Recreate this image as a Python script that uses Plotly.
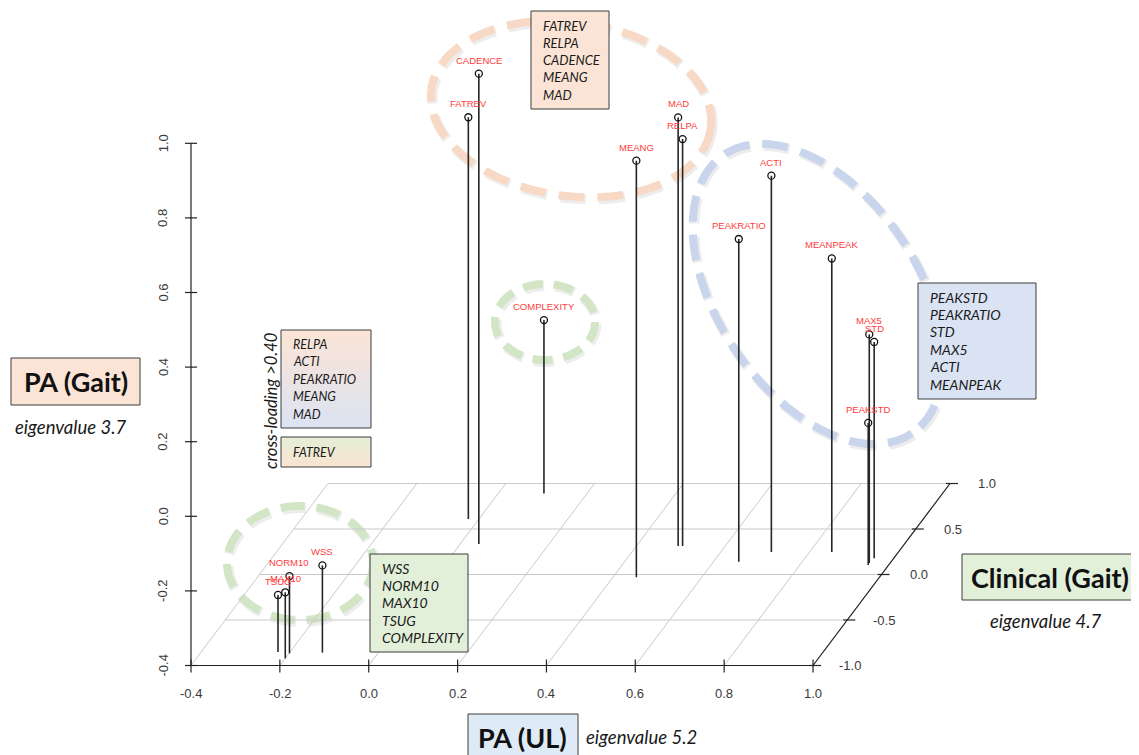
import numpy as np
import plotly.graph_objects as go

# ---------------- data (factor loadings) ----------------
variables = ["CADENCE", "FATREV", "MAD", "RELPA", "MEANG", "COMPLEXITY", "ACTI",
             "PEAKRATIO", "MEANPEAK", "MAX5", "STD", "PEAKSTD",
             "WSS", "NORM10", "MAX10", "TSUG"]
pa_ul = [0.042, -0.024, 0.494, 0.504, 0.453, 0.103, 0.714,
         0.657, 0.850, 0.953, 0.956, 0.954,
         -0.126, -0.199, -0.200, -0.227]
clinical_gait = [0.335, 0.610, 0.313, 0.313, -0.031, 0.890, 0.247,
                 0.141, 0.247, 0.126, 0.178, 0.104,
                 -0.859, -0.866, -0.921, -0.852]
pa_gait = [0.861, 0.677, 0.749, 0.691, 0.717, 0.065, 0.609,
           0.465, 0.387, 0.213, 0.180, -0.019,
           -0.166, -0.193, -0.223, -0.247]

x_ticks = [-0.4, -0.2, 0.0, 0.2, 0.4, 0.6, 0.8, 1.0]
y_ticks = [-1.0, -0.5, 0.0, 0.5, 1.0]
z_ticks = [-0.4, -0.2, 0.0, 0.2, 0.4, 0.6, 0.8, 1.0]

group_pa_gait = ["FATREV", "RELPA", "CADENCE", "MEANG", "MAD"]
group_pa_ul = ["PEAKSTD", "PEAKRATIO", "STD", "MAX5", "ACTI", "MEANPEAK"]
group_clinical = ["WSS", "NORM10", "MAX10", "TSUG", "COMPLEXITY"]
cross_loading = ["RELPA", "ACTI", "PEAKRATIO", "MEANG", "MAD"]
cross_loading_2 = ["FATREV"]

# ---------------- projection (scatterplot3d style) ----------------
XMIN, XMAX = -0.4, 1.0
YMIN, YMAX = -1.0, 1.0
ZMIN, ZMAX = -0.4, 1.0
OX, OY = 191.0, 665.5
X_UNIT = 444.3
D_DX, D_DY = 68.5, 91.0
Z_UNIT = 373.0


def proj(x, y, z):
    px = OX + (x - XMIN) * X_UNIT + (y - YMIN) * D_DX
    py = OY - (y - YMIN) * D_DY - (z - ZMIN) * Z_UNIT
    return px, py


W, H = 1139, 755
PAGE_MARGIN = 8  # default body margin of the html page
FONT_AX = "Liberation Sans"
FONT_TX = "Lato"

fig = go.Figure()
shapes = []
annotations = []


def seg_trace(segs, color, width):
    xs, ys = [], []
    for (x0, y0), (x1, y1) in segs:
        xs += [x0, x1, None]
        ys += [y0, y1, None]
    return go.Scatter(x=xs, y=ys, mode="lines", line=dict(color=color, width=width),
                      hoverinfo="skip", showlegend=False)


# ---------------- floor grid ----------------
grid = []
for xt in x_ticks:
    grid.append((proj(xt, YMIN, ZMIN), proj(xt, YMAX, ZMIN)))
for yt in y_ticks:
    grid.append((proj(XMIN, yt, ZMIN), proj(XMAX, yt, ZMIN)))
fig.add_trace(seg_trace(grid, "#c9c9c9", 1))

# ---------------- axes ----------------
axes = [
    (proj(XMIN, YMIN, ZMIN), proj(XMAX, YMIN, ZMIN)),
    (proj(XMIN, YMIN, ZMIN), proj(XMIN, YMIN, ZMAX)),
    (proj(XMAX, YMIN, ZMIN), proj(XMAX, YMAX, ZMIN)),
]
for xt in x_ticks:
    px, py = proj(xt, YMIN, ZMIN)
    axes.append(((px, py - 6), (px, py + 7)))
for zt in z_ticks:
    px, py = proj(XMIN, YMIN, zt)
    axes.append(((px - 6, py), (px + 6, py)))
for yt in y_ticks:
    px, py = proj(XMAX, yt, ZMIN)
    axes.append(((px - 4, py), (px + 8, py)))
fig.add_trace(seg_trace(axes, "#222222", 1.2))

tick_font = dict(family=FONT_AX, size=13, color="#3a3a3a")
for xt in x_ticks:
    px, py = proj(xt, YMIN, ZMIN)
    annotations.append(dict(x=px, y=py + 28, text=f"{xt:.1f}", showarrow=False, font=tick_font))
for zt in z_ticks:
    px, py = proj(XMIN, YMIN, zt)
    annotations.append(dict(x=px - 28, y=py, text=f"{zt:.1f}", showarrow=False,
                            textangle=-90, font=tick_font))
for yt in y_ticks:
    px, py = proj(XMAX, yt, ZMIN)
    annotations.append(dict(x=px + 37, y=py, text=f"{yt:.1f}", showarrow=False, font=tick_font))


# ---------------- dashed ellipses ----------------
def ellipse_path(cx, cy, a, b, deg, n=160):
    t = np.linspace(0, 2 * np.pi, n)
    r = np.deg2rad(deg)
    xs = cx + a * np.cos(t) * np.cos(r) - b * np.sin(t) * np.sin(r)
    ys = cy + a * np.cos(t) * np.sin(r) + b * np.sin(t) * np.cos(r)
    pts = [f"{x:.1f},{y:.1f}" for x, y in zip(xs, ys)]
    return "M " + " L ".join(pts) + " Z"


ellipses = [
    (571, 109, 141, 87, 8, "#f8d9c5", "26px,13px"),
    (818, 294, 168, 100, 56, "#c8d5ec", "26px,13px"),
    (545, 322, 50, 38, 0, "#d2e6c6", "20px,11px"),
    (300, 563, 73, 57, 0, "#d2e6c6", "24px,12px"),
]
for cx, cy, a, b, deg, col, dash in ellipses:
    shapes.append(dict(type="path", path=ellipse_path(cx + 1.5, cy + 2, a, b, deg),
                       line=dict(color="rgba(0,0,0,0.07)", width=10, dash=dash), layer="below"))
    shapes.append(dict(type="path", path=ellipse_path(cx, cy, a, b, deg),
                       line=dict(color=col, width=8, dash=dash), layer="below"))

# ---------------- drop lines, points, labels ----------------
drops = []
pxs, pys = [], []
for v, x, y, z in zip(variables, pa_ul, clinical_gait, pa_gait):
    p = proj(x, y, z)
    f = proj(x, y, ZMIN)
    drops.append((p, f))
    pxs.append(p[0])
    pys.append(p[1])
    annotations.append(dict(x=p[0], y=p[1], yshift=13.5, text=v, showarrow=False,
                            font=dict(family=FONT_AX, size=9.5, color="#ff3b3b")))
fig.add_trace(seg_trace(drops, "#262626", 1.6))
fig.add_trace(go.Scatter(x=pxs, y=pys, mode="markers",
                         marker=dict(symbol="circle-open", size=7, color="#111111",
                                     line=dict(width=1.3, color="#111111")),
                         hoverinfo="skip", showlegend=False))


# ---------------- text boxes ----------------
def box(x0, y0, x1, y1, fill):
    shapes.append(dict(type="rect", x0=x0, y0=y0, x1=x1, y1=y1, fillcolor=fill,
                       line=dict(color="#3c3c3c", width=1), layer="above"))


def grad_box(x0, y0, x1, y1, c_top, c_bot):
    fig.add_trace(go.Scatter(x=[x0, x1, x1, x0, x0], y=[y0, y0, y1, y1, y0], mode="lines",
                             fill="toself",
                             fillgradient=dict(type="vertical", start=y0, stop=y1,
                                               colorscale=[[0, c_top], [1, c_bot]]),
                             line=dict(color="#3c3c3c", width=1),
                             hoverinfo="skip", showlegend=False))


def lines_text(names, x, y_first, step, size):
    for i, n in enumerate(names):
        annotations.append(dict(x=x, y=y_first + i * step, text=f"<i>{n}</i>", showarrow=False,
                                xanchor="left", font=dict(family=FONT_TX, size=size, color="#1a1a1a")))


box(531, 11, 609, 109, "#fbe4d5")
lines_text(group_pa_gait, 541, 25.5, 17.3, 13)

box(918, 283, 1036, 399, "#dae3f3")
lines_text(group_pa_ul, 928, 297, 17.4, 14)

box(370, 554, 468, 652, "#e2efd9")
lines_text(group_clinical, 380, 568, 17.4, 14)

grad_box(281, 330, 371, 428, "#fbe4d5", "#dbe3f3")
lines_text(cross_loading, 291, 344, 17.5, 12.5)

grad_box(281, 437, 371, 467, "#e5efd5", "#f9e3d1")
lines_text(cross_loading_2, 291, 452, 17.5, 12.5)

annotations.append(dict(x=271, y=401, text="<i>cross-loading &gt;0.40</i>", showarrow=False,
                        textangle=-90, font=dict(family=FONT_TX, size=16.5, color="#1a1a1a")))

# factor title boxes
box(11, 358, 140, 405, "#fbe4d5")
annotations.append(dict(x=75.5, y=381.5, text="<b>PA (Gait)</b>", showarrow=False,
                        font=dict(family=FONT_TX, size=27, color="#111111")))
annotations.append(dict(x=70, y=427, text="<i>eigenvalue 3.7</i>", showarrow=False,
                        font=dict(family=FONT_TX, size=18.5, color="#1a1a1a")))

box(962, 554, 1140, 600, "#e2efd9")
annotations.append(dict(x=1050, y=577, text="<b>Clinical (Gait)</b>", showarrow=False,
                        font=dict(family=FONT_TX, size=27, color="#111111")))
annotations.append(dict(x=1045, y=621, text="<i>eigenvalue 4.7</i>", showarrow=False,
                        font=dict(family=FONT_TX, size=18.5, color="#1a1a1a")))

box(468, 714, 578, 760, "#deebf7")
annotations.append(dict(x=522, y=737, text="<b>PA (UL)</b>", showarrow=False,
                        font=dict(family=FONT_TX, size=27, color="#111111")))
annotations.append(dict(x=641, y=737, text="<i>eigenvalue 5.2</i>", showarrow=False,
                        font=dict(family=FONT_TX, size=18.5, color="#1a1a1a")))

fig.update_layout(
    width=W - PAGE_MARGIN, height=H - PAGE_MARGIN,
    margin=dict(l=0, r=0, t=0, b=0),
    paper_bgcolor="white", plot_bgcolor="white",
    xaxis=dict(range=[PAGE_MARGIN, W], visible=False, fixedrange=True),
    yaxis=dict(range=[H, PAGE_MARGIN], visible=False, fixedrange=True),
    shapes=shapes, annotations=annotations,
    showlegend=False, hovermode=False,
)

fig.write_html("out.html")
